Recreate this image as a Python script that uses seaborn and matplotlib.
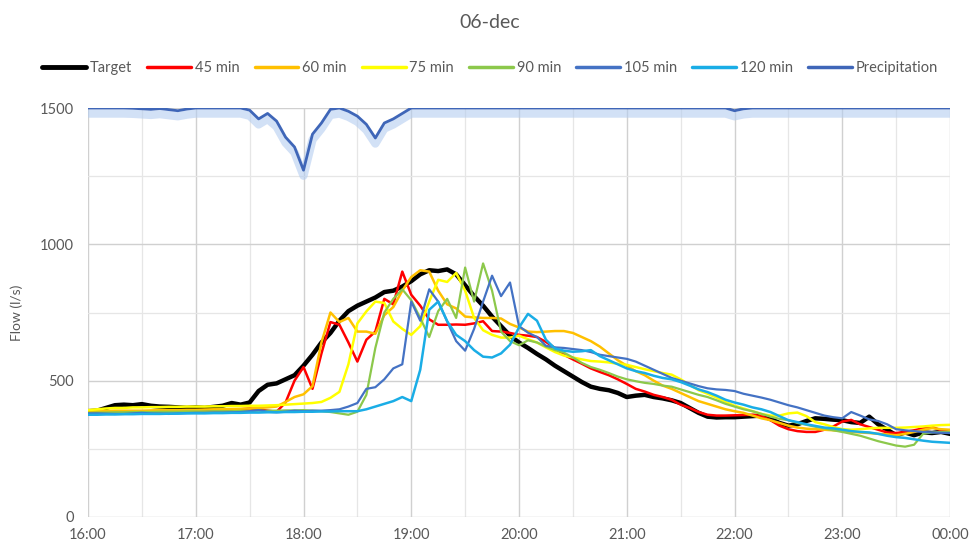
import numpy as np
import pandas as pd
import matplotlib
matplotlib.use("Agg")
import matplotlib.pyplot as plt
import matplotlib.ticker as mticker
from matplotlib.transforms import ScaledTranslation
from matplotlib.lines import Line2D
import seaborn as sns

# ---------------- data (5-minute steps, 16:00 -> 00:00) ----------------
step_minutes = 5
tick_labels = ["16:00", "17:00", "18:00", "19:00", "20:00", "21:00", "22:00", "23:00", "00:00"]
series_names = ["Target", "45 min", "60 min", "75 min", "90 min", "105 min", "120 min"]

target = [388, 390, 400, 410, 412, 410, 414, 408, 405, 404, 402, 400,
          402, 400, 404, 408, 418, 412, 420, 462, 485, 490, 505, 520,
          555, 595, 640, 675, 720, 755, 775, 790, 805, 825, 830, 845,
          865, 890, 905, 902, 908, 890, 850, 810, 775, 735, 700, 665,
          640, 620, 598, 578, 555, 535, 515, 495, 478, 470, 465, 455,
          440, 445, 448, 440, 435, 428, 418, 400, 382, 368, 365, 366,
          366, 368, 370, 372, 360, 345, 335, 340, 352, 362, 360, 357,
          355, 348, 345, 368, 340, 320, 300, 310, 300, 310, 308, 312,
          305]
m45 = [378, 380, 382, 383, 384, 385, 386, 385, 384, 386, 388, 390,
       390, 392, 390, 388, 392, 395, 398, 395, 390, 386, 420, 500,
       550, 470, 600, 715, 705, 640, 570, 650, 680, 800, 780, 900,
       815, 775, 725, 705, 705, 706, 705, 710, 718, 682, 680, 675,
       668, 665, 660, 642, 620, 595, 578, 562, 545, 532, 520, 505,
       488, 470, 460, 448, 440, 430, 412, 400, 385, 375, 372, 372,
       373, 374, 375, 370, 355, 335, 322, 315, 312, 312, 320, 332,
       350, 356, 340, 330, 320, 310, 308, 312, 318, 325, 330, 318,
       312]
m60 = [388, 388, 389, 390, 390, 390, 390, 391, 392, 392, 392, 393,
       393, 394, 395, 395, 396, 397, 398, 400, 402, 405, 422, 440,
       450, 480, 640, 750, 715, 730, 680, 680, 672, 740, 770, 830,
       880, 905, 900, 830, 780, 765, 735, 732, 730, 730, 728, 708,
       695, 680, 678, 680, 682, 682, 675, 660, 645, 625, 600, 575,
       555, 535, 520, 500, 482, 470, 455, 440, 425, 415, 405, 395,
       388, 382, 372, 362, 355, 345, 335, 328, 324, 322, 320, 318,
       315, 312, 310, 308, 305, 303, 300, 305, 312, 320, 326, 322,
       320]
m75 = [392, 395, 398, 400, 400, 402, 402, 403, 403, 404, 404, 405,
       405, 405, 406, 406, 407, 407, 408, 408, 409, 410, 412, 414,
       416, 418, 422, 437, 459, 560, 710, 754, 790, 785, 717, 690,
       668, 700, 790, 870, 862, 895, 830, 730, 685, 668, 658, 658,
       665, 652, 640, 622, 605, 592, 585, 578, 572, 570, 567, 562,
       558, 550, 542, 535, 528, 522, 505, 485, 465, 452, 438, 422,
       408, 398, 388, 378, 372, 372, 380, 383, 370, 348, 340, 330,
       322, 320, 322, 325, 327, 327, 327, 328, 330, 332, 335, 337,
       338]
m90 = [382, 383, 383, 384, 384, 385, 385, 385, 386, 386, 386, 387,
       387, 387, 388, 388, 388, 389, 389, 390, 390, 390, 391, 391,
       392, 390, 388, 385, 380, 375, 386, 448, 620, 750, 800, 835,
       795, 730, 660, 755, 800, 730, 915, 790, 930, 830, 680, 645,
       630, 648, 640, 625, 612, 603, 585, 565, 550, 540, 528, 515,
       505, 498, 492, 488, 482, 478, 468, 458, 448, 440, 428, 415,
       405, 395, 388, 378, 368, 360, 355, 345, 338, 331, 325, 318,
       312, 305, 298, 288, 278, 270, 262, 258, 265, 305, 310, 312,
       312]
m105 = [380, 380, 379, 378, 378, 380, 382, 380, 379, 378, 380, 381,
        382, 382, 383, 383, 384, 385, 388, 392, 386, 384, 386, 390,
        388, 390, 390, 392, 395, 405, 418, 470, 476, 505, 545, 560,
        790, 720, 835, 790, 717, 645, 610, 690, 790, 885, 810, 860,
        700, 676, 660, 628, 622, 620, 616, 612, 605, 595, 590, 585,
        580, 570, 555, 540, 525, 510, 500, 490, 480, 472, 468, 466,
        462, 452, 445, 438, 430, 420, 410, 402, 392, 382, 372, 366,
        362, 385, 372, 358, 352, 340, 322, 318, 315, 312, 310, 309,
        308]
m120 = [375, 375, 376, 376, 377, 377, 378, 378, 378, 379, 379, 380,
        380, 380, 381, 381, 382, 382, 383, 383, 384, 384, 385, 385,
        386, 386, 387, 387, 388, 388, 388, 395, 405, 415, 425, 440,
        425, 540, 760, 790, 718, 668, 645, 612, 588, 585, 600, 632,
        695, 745, 720, 650, 618, 610, 606, 608, 612, 590, 575, 560,
        545, 535, 528, 518, 510, 505, 495, 482, 468, 458, 445, 430,
        420, 412, 402, 395, 385, 370, 355, 348, 340, 334, 328, 325,
        320, 315, 312, 310, 305, 298, 293, 290, 285, 280, 276, 274,
        272]
# precipitation (mm per 5 min), drawn downward from the top of the chart
precipitation = [0, 0, 0, 0, 0, 0.02, 0.06, 0.1, 0.04, 0.12, 0.2, 0.08,
                 0, 0, 0, 0, 0, 0, 0.16, 0.8, 0.4, 0.96, 2.14, 2.86,
                 4.56, 1.92, 1.1, 0.1, 0, 0.24, 0.6, 1.2, 2.2, 1.1, 0.8, 0.4,
                 0, 0, 0, 0, 0, 0, 0, 0, 0, 0, 0, 0,
                 0, 0, 0, 0, 0, 0, 0, 0, 0, 0, 0, 0,
                 0, 0, 0, 0, 0, 0, 0, 0, 0, 0, 0, 0,
                 0.2, 0.06, 0, 0, 0, 0, 0, 0, 0, 0, 0, 0,
                 0, 0, 0, 0, 0, 0, 0, 0, 0, 0, 0, 0,
                 0]

series_values = [target, m45, m60, m75, m90, m105, m120]
series_colors = ["#000000", "#FF0000", "#FFC000", "#FFFF00", "#8CC84B", "#4472C4", "#1AADE6"]
series_widths = [3.2, 1.8, 1.8, 1.8, 1.6, 1.6, 1.8]
precip_color = "#3F66B8"

hours = 16 + np.arange(len(target)) * step_minutes / 60.0

# ---------------- styling ----------------
sns.set_theme(style="white")
plt.rcParams["font.family"] = ["Lato", "DejaVu Sans"]
text_grey = "#595959"

fig = plt.figure(figsize=(9.8, 5.53), dpi=100)
ax = fig.add_axes([0.0898, 0.0651, 0.8796, 0.7396])

for name, vals, col, lw in zip(series_names, series_values, series_colors, series_widths):
    sns.lineplot(x=hours, y=vals, ax=ax, color=col, linewidth=lw, legend=False)

ax.set_xlim(16, 24)
ax.set_ylim(0, 1500)
ax.set_xticks(np.arange(16, 25, 1))
ax.set_xticklabels(tick_labels)
ax.xaxis.set_minor_locator(mticker.MultipleLocator(0.5))
ax.set_yticks([0, 500, 1000, 1500])
ax.yaxis.set_minor_locator(mticker.MultipleLocator(250))
ax.grid(which="major", color="#D0D0D0", linewidth=1.0)
ax.grid(which="minor", color="#E6E6E6", linewidth=0.9)
ax.set_axisbelow(True)
for s in ax.spines.values():
    s.set_visible(False)
ax.tick_params(axis="both", which="both", length=0, labelsize=10.5, labelcolor=text_grey)
ax.tick_params(axis="x", pad=8)
ax.tick_params(axis="y", pad=10)
ax.set_xlabel("")
ax.set_ylabel("Flow (l/s)", fontsize=10, color=text_grey, labelpad=12)

# precipitation on an inverted secondary axis
ax2 = ax.twinx()
ax2.set_ylim(30, 0)
sns.lineplot(x=hours, y=precipitation, ax=ax2, color="#B5CDF0", linewidth=6, alpha=0.6, legend=False)
glow = ax2.lines[-1]
glow.set_transform(glow.get_transform() + ScaledTranslation(0, -4 / 72, fig.dpi_scale_trans))
sns.lineplot(x=hours, y=precipitation, ax=ax2, color=precip_color, linewidth=2.0, legend=False)
ax2.set_yticks([])
ax2.set_ylabel("")
for s in ax2.spines.values():
    s.set_visible(False)
ax2.set_xlim(16, 24)

# legend
handles = [Line2D([0], [0], color=c, lw=(3.5 if n == "Target" else 2.5)) for n, c in zip(series_names, series_colors)]
handles.append(Line2D([0], [0], color=precip_color, lw=2.5))
labels = series_names + ["Precipitation"]
fig.legend(handles, labels, loc="center", bbox_to_anchor=(0.5, 0.877), ncol=8, frameon=False,
           fontsize=10.5, handlelength=3.0, handletextpad=0.25, columnspacing=1.05, labelcolor=text_grey)

fig.suptitle("06-dec", y=0.975, fontsize=14, color=text_grey)

fig.savefig("out.png", dpi=100)
